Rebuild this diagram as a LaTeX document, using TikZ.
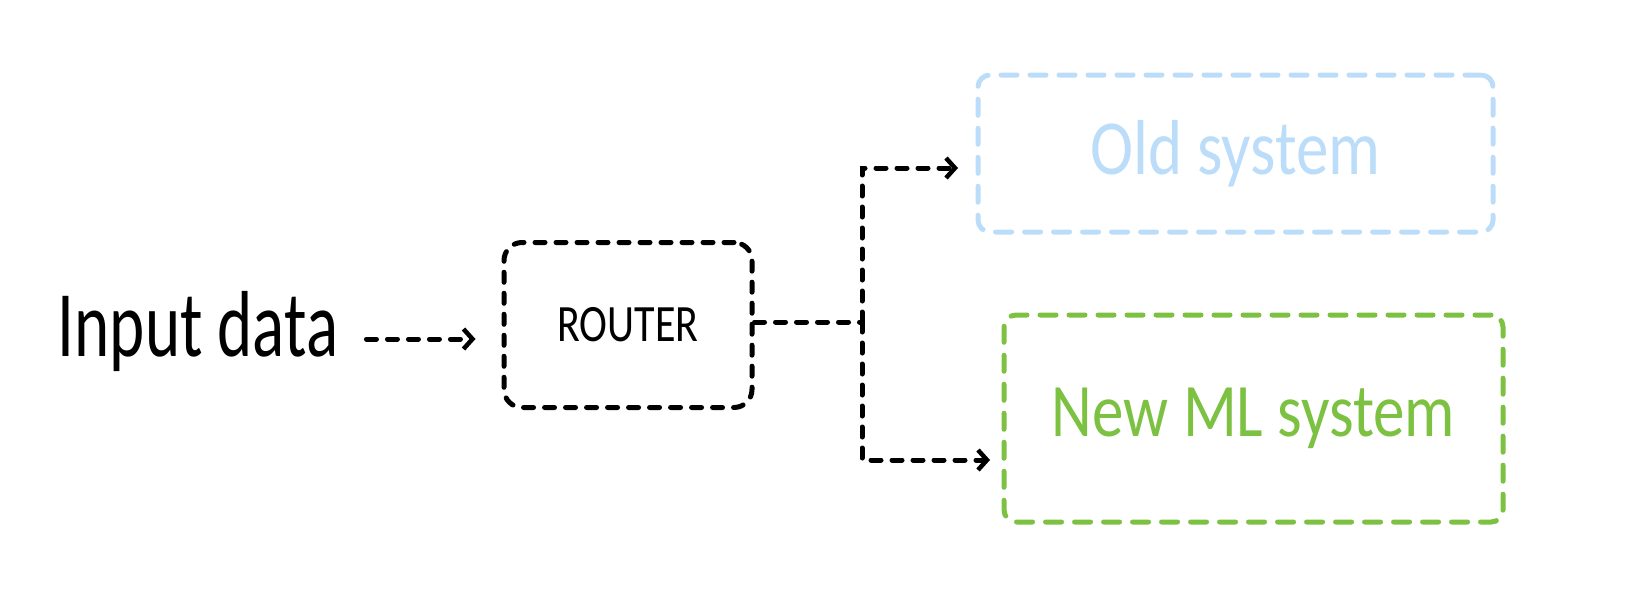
\documentclass[tikz,border=0pt]{standalone}
\usepackage{fontspec}
\setmainfont{Carlito}
\usetikzlibrary{arrows.meta}
\definecolor{oldblue}{HTML}{BCDDF9}
\definecolor{newgreen}{HTML}{7DC142}
\tikzset{
  conn/.style={line width=5pt, dash pattern=on 10pt off 11pt, line cap=round, black},
  arr/.style={conn, -{Straight Barb[length=9pt,width=20pt,line width=4.5pt]}},
  sysbox/.style={draw, line width=5pt, dash pattern=on 16pt off 13pt, line cap=round, rounded corners=12pt, inner sep=0pt},
}
\begin{document}
\begin{tikzpicture}[x=1pt,y=-1pt]
\useasboundingbox (0,0) rectangle (1637,610);
\node[inner sep=0pt, anchor=center] (input) at (198,331) {\fontsize{67}{70}\selectfont\scalebox{1}[1.4]{Input data}};
\node[draw, conn, rounded corners=18pt, minimum width=248pt, minimum height=165pt, inner sep=0pt] (router) at (628,325) {\fontsize{42}{44}\selectfont\scalebox{1}[1.25]{ROUTER}};
\node[sysbox, draw=oldblue, text=oldblue, minimum width=515pt, minimum height=157pt] (old) at (1235.5,153.5) {\fontsize{65}{68}\selectfont\scalebox{1}[1.2]{Old system}};
\node[sysbox, draw=newgreen, text=newgreen, minimum width=499pt, minimum height=207pt] (new) at (1253.5,418.5) {\fontsize{63}{66}\selectfont\scalebox{1}[1.2]{New ML system}};
\coordinate (jmid) at (862,322);
\coordinate (oldtip) at (958,168);
\coordinate (newtip) at (990,460);
\draw[arr, shorten <=28pt, shorten >=26pt] (input.east |- 0,339) -- (router.west |- 0,339);
\draw[conn] (router.east |- jmid) -- (jmid);
\draw[arr] (jmid) |- (oldtip);
\draw[arr] (jmid) |- (newtip);
\end{tikzpicture}
\end{document}
